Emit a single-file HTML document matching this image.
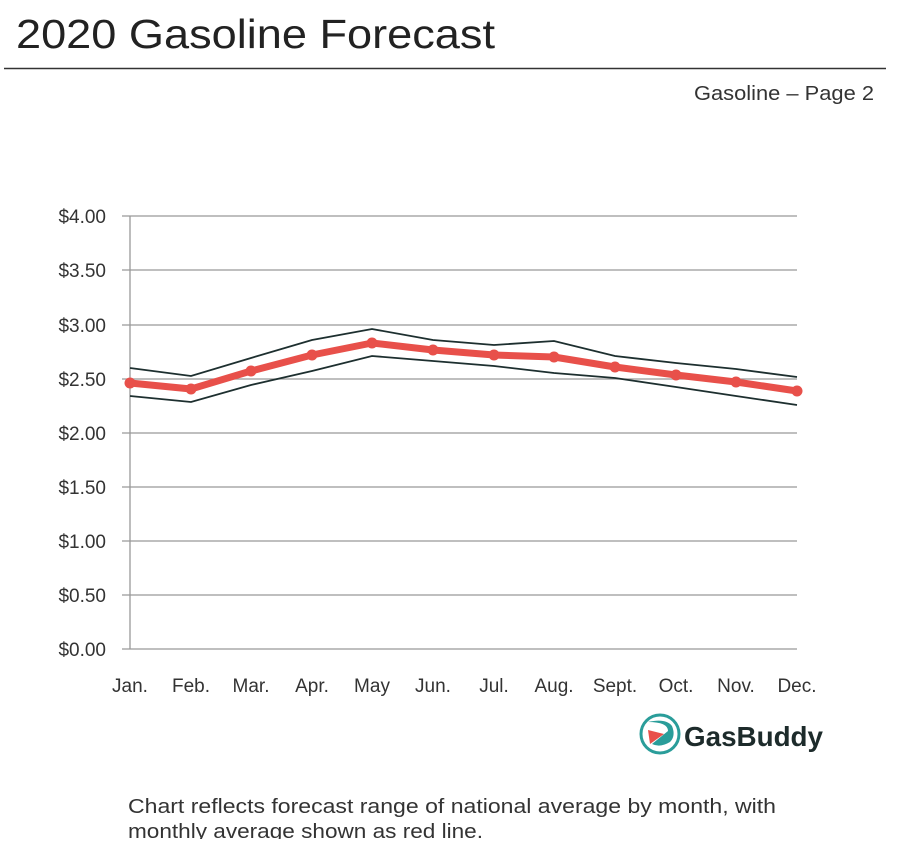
<!DOCTYPE html>
<html><head><meta charset="utf-8"><style>
body{margin:0;width:900px;height:839px;background:#fff;overflow:hidden;font-family:"Liberation Sans",sans-serif;}
</style></head><body>
<svg width="900" height="839" xmlns="http://www.w3.org/2000/svg" font-family="Liberation Sans, sans-serif">
<text x="16" y="48" font-size="41" fill="#222" textLength="479" lengthAdjust="spacingAndGlyphs">2020 Gasoline Forecast</text>
<line x1="4" y1="68.5" x2="886" y2="68.5" stroke="#333" stroke-width="1.5"/>
<text x="694" y="100" font-size="20" fill="#333" textLength="180" lengthAdjust="spacingAndGlyphs">Gasoline – Page 2</text>
<g stroke="#999" stroke-width="1.3">
<line x1="122" y1="216" x2="797" y2="216"/><line x1="122" y1="270" x2="797" y2="270"/>
<line x1="122" y1="325" x2="797" y2="325"/><line x1="122" y1="379" x2="797" y2="379"/>
<line x1="122" y1="433" x2="797" y2="433"/><line x1="122" y1="487" x2="797" y2="487"/>
<line x1="122" y1="541" x2="797" y2="541"/><line x1="122" y1="595" x2="797" y2="595"/>
<line x1="122" y1="649" x2="797" y2="649"/>
<line x1="130" y1="216" x2="130" y2="649"/>
</g>
<g font-size="19" fill="#333" text-anchor="end">
<text x="106" y="223">$4.00</text><text x="106" y="277">$3.50</text><text x="106" y="332">$3.00</text>
<text x="106" y="386">$2.50</text><text x="106" y="440">$2.00</text><text x="106" y="494">$1.50</text>
<text x="106" y="548">$1.00</text><text x="106" y="602">$0.50</text><text x="106" y="656">$0.00</text>
</g>
<g font-size="19" fill="#333" text-anchor="middle">
<text x="130" y="692">Jan.</text><text x="191" y="692">Feb.</text><text x="251" y="692">Mar.</text><text x="312" y="692">Apr.</text><text x="372" y="692">May</text><text x="433" y="692">Jun.</text><text x="494" y="692">Jul.</text><text x="554" y="692">Aug.</text><text x="615" y="692">Sept.</text><text x="676" y="692">Oct.</text><text x="736" y="692">Nov.</text><text x="797" y="692">Dec.</text>
</g>
<g fill="none" stroke="#1d2f2f" stroke-width="1.8">
<polyline points="130,368 191,376 251,358 312,340 372,329 433,340 494,345 554,341 615,356 676,363 736,369 797,377"/>
<polyline points="130,396 191,402 251,385 312,371 372,356 433,361 494,366 554,373 615,378 676,387 736,396 797,405"/>
</g>
<polyline fill="none" stroke="#e8504a" stroke-width="7" stroke-linejoin="round" points="130,383 191,389 251,371 312,355 372,343 433,350 494,355 554,357 615,367 676,375 736,382 797,391"/>
<g fill="#e8504a">
<circle cx="130" cy="383" r="5.5"/><circle cx="191" cy="389" r="5.5"/><circle cx="251" cy="371" r="5.5"/><circle cx="312" cy="355" r="5.5"/><circle cx="372" cy="343" r="5.5"/><circle cx="433" cy="350" r="5.5"/><circle cx="494" cy="355" r="5.5"/><circle cx="554" cy="357" r="5.5"/><circle cx="615" cy="367" r="5.5"/><circle cx="676" cy="375" r="5.5"/><circle cx="736" cy="382" r="5.5"/><circle cx="797" cy="391" r="5.5"/>
</g>
<circle cx="660" cy="734" r="19" fill="none" stroke="#2a9d9a" stroke-width="3"/>
<path d="M648,722 Q668,722 668,731 L652,744 Q660,748 670,742 Q676,736 672,726 Q666,718 648,722Z" fill="#2a9d9a"/>
<path d="M648,730 L664,734 L650,744 Z" fill="#e8504a"/>
<text x="684" y="746" font-size="28" font-weight="bold" fill="#1d2b2b" textLength="139" lengthAdjust="spacingAndGlyphs">GasBuddy</text>
<text x="128" y="813" font-size="20" fill="#333" textLength="648" lengthAdjust="spacingAndGlyphs">Chart reflects forecast range of national average by month, with</text>
<text x="128" y="838" font-size="20" fill="#333" textLength="355" lengthAdjust="spacingAndGlyphs">monthly average shown as red line.</text>
</svg>
</body></html>
